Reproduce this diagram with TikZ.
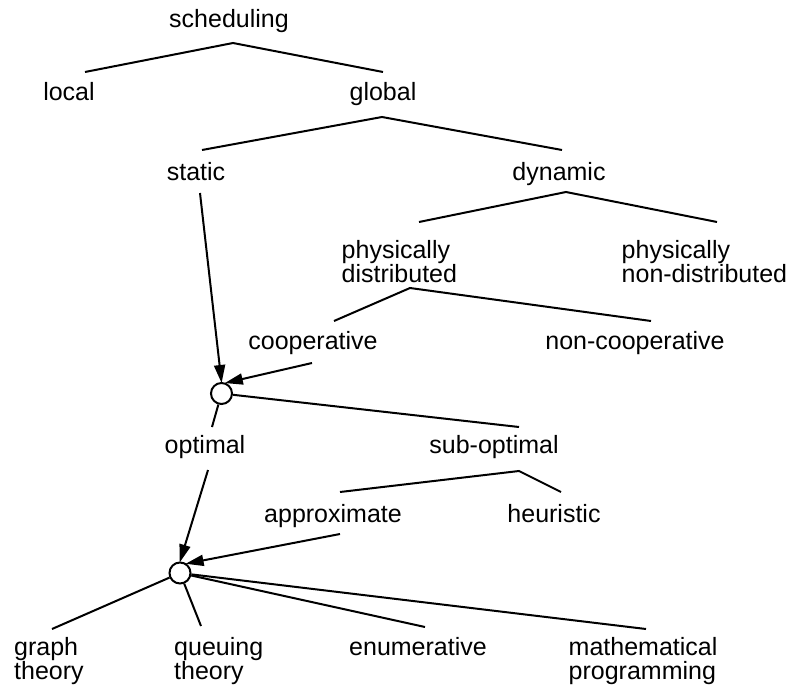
\documentclass[tikz,border=0pt]{standalone}
\usepackage{fontspec}
\setmainfont{Liberation Sans}
\usetikzlibrary{arrows.meta}

\tikzset{
  lbl/.style={inner sep=0pt, font=\fontsize{25}{24.5}\selectfont, anchor=base},
  lblml/.style={inner sep=0pt, font=\fontsize{25}{24.5}\selectfont, align=left, anchor=north west},
  junction/.style={circle, draw, line width=2pt, fill=white, minimum size=21pt, inner sep=0pt},
  branch/.style={line width=2pt, line join=miter},
  flow/.style={line width=2pt, -{Triangle[length=18pt,width=11pt]}, shorten >=-1pt}
}

\begin{document}
\begin{tikzpicture}[x=1pt, y=-1pt]
\useasboundingbox (0,0) rectangle (794,687);

% labels of the taxonomy
\node[lbl] (sched)  at (229,28)  {scheduling};
\node[lbl] (local)  at (69,101)  {local};
\node[lbl] (global) at (383,101) {global};
\node[lbl] (static) at (196,180) {static};
\node[lbl] (dyn)    at (559,180) {dynamic};
\node[lblml] (pdist)  at (341.5,240) {physically\\distributed};
\node[lblml] (pndist) at (621.5,240) {physically\\non-distributed};
\node[lbl] (coop)   at (313,349) {cooperative};
\node[lbl] (ncoop)  at (635,349) {non-cooperative};
\node[lbl] (opt)    at (205,453) {optimal};
\node[lbl] (subopt) at (494,453) {sub-optimal};
\node[lbl] (approx) at (333,522) {approximate};
\node[lbl] (heur)   at (554,522) {heuristic};
\node[lblml] (graph) at (14,637)   {graph\\theory};
\node[lblml] (queue) at (174,637)  {queuing\\theory};
\node[lbl] (enum)   at (418,655) {enumerative};
\node[lblml] (math)  at (568.5,637) {mathematical\\programming};

% junction circles
\node[junction] (c1) at (221.5,393.5) {};
\node[junction] (c2) at (180,573) {};

% fork points and connector ends
\coordinate (f1)  at (233,43);
\coordinate (f1a) at (85,72);
\coordinate (f1b) at (383,72);
\coordinate (f2)  at (382,117);
\coordinate (f2a) at (202,150);
\coordinate (f2b) at (562,150);
\coordinate (f3)  at (566,192);
\coordinate (f3a) at (419,222);
\coordinate (f3b) at (717,222);
\coordinate (f4)  at (410,288);
\coordinate (f4a) at (334,321);
\coordinate (f4b) at (651,321);
\coordinate (f5)  at (519,471);
\coordinate (f5a) at (340,492);
\coordinate (f5b) at (561,492);
\coordinate (c1opt) at (212,427);
\coordinate (c1sub) at (519,427);
\coordinate (c2g) at (52,629);
\coordinate (c2q) at (201,626);
\coordinate (c2e) at (425,627);
\coordinate (c2m) at (646,629);
\coordinate (sout) at (200,193);
\coordinate (cout) at (312,363);
\coordinate (oout) at (208,470);
\coordinate (aout) at (340,534);

% tree branches
\draw[branch] (f1a) -- (f1) -- (f1b);
\draw[branch] (f2a) -- (f2) -- (f2b);
\draw[branch] (f3a) -- (f3) -- (f3b);
\draw[branch] (f4a) -- (f4) -- (f4b);
\draw[branch] (f5a) -- (f5) -- (f5b);
\draw[branch] (c1) -- (c1opt);
\draw[branch] (c1) -- (c1sub);
\draw[branch] (c2) -- (c2g);
\draw[branch] (c2) -- (c2q);
\draw[branch] (c2) -- (c2e);
\draw[branch] (c2) -- (c2m);

% arrows into the junctions
\draw[flow] (sout) -- (c1.north);
\draw[flow] (cout) -- (c1.68);
\draw[flow] (oout) -- (c2.north);
\draw[flow] (aout) -- (c2.55);

\end{tikzpicture}
\end{document}
